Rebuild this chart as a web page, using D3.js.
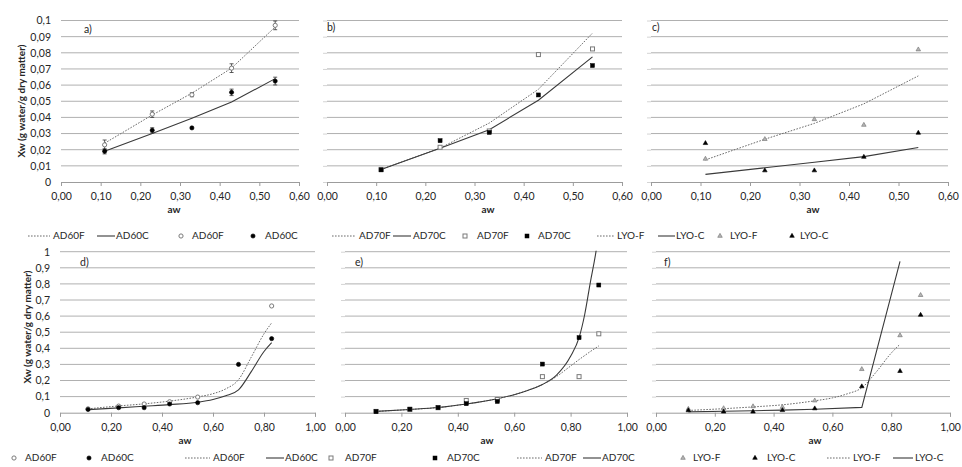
<!DOCTYPE html>
<html>
<head>
<meta charset="utf-8">
<script src="https://cdn.jsdelivr.net/npm/d3@7"></script>
<style>
  body { margin: 0; background: #fff; }
  svg { display: block; font-family: Lato, "Liberation Sans", sans-serif; }
</style>
</head>
<body>
<svg id="chart" width="962" height="467"></svg>
<script>
// ---------- tick labels ----------
const xTicksTop = [0, 0.1, 0.2, 0.3, 0.4, 0.5, 0.6];
const xTicksBot = [0, 0.2, 0.4, 0.6, 0.8, 1.0];
const yTicksTop = [0, 0.01, 0.02, 0.03, 0.04, 0.05, 0.06, 0.07, 0.08, 0.09, 0.1];
const yTicksBot = [0, 0.1, 0.2, 0.3, 0.4, 0.5, 0.6, 0.7, 0.8, 0.9, 1.0];

// ---------- water activity levels ----------
const awLow  = [0.11, 0.23, 0.33, 0.43, 0.54];
const awFull = [0.11, 0.23, 0.33, 0.43, 0.54, 0.70, 0.83, 0.90];
const awD    = [0.11, 0.23, 0.33, 0.43, 0.54, 0.83];
const awDC   = [0.11, 0.23, 0.33, 0.43, 0.54, 0.70, 0.83];

// ---------- a) AD60, low aw range ----------
const ad60F_a     = [0.023, 0.042, 0.054, 0.0705, 0.097];
const ad60F_a_err = [0.003, 0.002, 0.0012, 0.0027, 0.0027];
const ad60C_a     = [0.019, 0.032, 0.0335, 0.0555, 0.0625];
const ad60C_a_err = [0.0016, 0.0016, 0, 0.002, 0.0024];
const fitAD60F_a  = [0.024, 0.0415, 0.055, 0.0705, 0.096];
const fitAD60C_a  = [0.019, 0.030, 0.0395, 0.0495, 0.064];

// ---------- b) AD70, low aw range ----------
const ad70F_b    = [0.0078, 0.0215, 0.0316, 0.0789, 0.0824];
const ad70C_b    = [0.0075, 0.0256, 0.0307, 0.0539, 0.0721];
const fitAD70F_b = [0.0078, 0.021, 0.0365, 0.0574, 0.0922];
const fitAD70C_b = [0.0078, 0.0209, 0.0324, 0.0506, 0.0775];

// ---------- c) LYO, low aw range ----------
const lyoF_c    = [0.0143, 0.0265, 0.0388, 0.0353, 0.082];
const lyoC_c    = [0.024, 0.0071, 0.0071, 0.0155, 0.0304];
const fitLyoF_c = [0.0137, 0.0265, 0.0363, 0.0484, 0.0657];
const fitLyoC_c = [0.0047, 0.0088, 0.0122, 0.0157, 0.0214];

// ---------- d) AD60, full aw range ----------
const ad60F_d    = [0.024, 0.041, 0.054, 0.068, 0.097, 0.663];
const ad60C_d    = [0.020, 0.031, 0.031, 0.054, 0.062, 0.30, 0.46];
const fitAw_d    = [0.11, 0.23, 0.33, 0.43, 0.54, 0.60, 0.65, 0.70, 0.75, 0.80, 0.83];
const fitAD60F_d = [0.024, 0.042, 0.055, 0.072, 0.098, 0.118, 0.148, 0.205, 0.345, 0.49, 0.558];
const fitAD60C_d = [0.019, 0.030, 0.040, 0.050, 0.065, 0.082, 0.105, 0.142, 0.255, 0.38, 0.435];

// ---------- e) AD70, full aw range ----------
const ad70F_e    = [0.008, 0.021, 0.031, 0.076, 0.082, 0.224, 0.224, 0.49];
const ad70C_e    = [0.007, 0.022, 0.031, 0.056, 0.070, 0.302, 0.466, 0.793];
const fitAw_e    = [0.11, 0.23, 0.33, 0.43, 0.54, 0.60, 0.65, 0.70, 0.75, 0.80, 0.83, 0.85, 0.87, 0.89, 0.90];
const fitAD70F_e = [0.008, 0.020, 0.032, 0.054, 0.087, 0.112, 0.140, 0.175, 0.225, 0.290, 0.330, 0.355, 0.380, 0.403, 0.415];
const fitAD70C_e = [0.008, 0.020, 0.032, 0.054, 0.087, 0.112, 0.140, 0.175, 0.233, 0.350, 0.466, 0.61, 0.81, 1.0, 1.12];

// ---------- f) LYO, full aw range ----------
const lyoF_f    = [0.023, 0.027, 0.039, 0.035, 0.075, 0.27, 0.48, 0.73];
const lyoC_f    = [0.014, 0.006, 0.006, 0.015, 0.026, 0.163, 0.258, 0.607];
const fitAw_f   = [0.11, 0.23, 0.33, 0.43, 0.54, 0.60, 0.65, 0.70, 0.75, 0.80, 0.83];
const fitLyoF_f = [0.014, 0.025, 0.036, 0.049, 0.074, 0.092, 0.117, 0.155, 0.255, 0.37, 0.425];
const fitAwC_f  = [0.11, 0.23, 0.33, 0.43, 0.54, 0.70, 0.83];
const fitLyoC_f = [0.005, 0.009, 0.012, 0.016, 0.021, 0.033, 0.94];

// ---------- drawing ----------
const svg = d3.select("#chart");
const GRID = "#b0b0b0", AXIS = "#9c9c9c", TXT = "#262626";
const zip = (xs, ys, es) => xs.map((x, i) => ({ aw: x, xw: ys[i], err: es ? es[i] : 0 }));
const fmtX = v => v.toFixed(2).replace(".", ",");
const fmtY = v => String(+v.toFixed(2)).replace(".", ",");

function drawMarker(g, shape, filled, cx, cy) {
  const stroke = filled ? "#000" : "#7a7a7a";
  const fill = filled ? "#000" : "#fff";
  if (shape === "circle") {
    g.append("circle").attr("cx", cx).attr("cy", cy).attr("r", 2.1)
      .attr("fill", fill).attr("stroke", stroke).attr("stroke-width", filled ? 0.6 : 1);
  } else if (shape === "square") {
    g.append("rect").attr("x", cx - 2).attr("y", cy - 2).attr("width", 4).attr("height", 4)
      .attr("fill", fill).attr("stroke", stroke).attr("stroke-width", filled ? 0.5 : 1);
  } else {
    g.append("path").attr("d", d3.symbol(d3.symbolTriangle, 9)())
      .attr("transform", `translate(${cx},${cy})`)
      .attr("fill", filled ? "#000" : "#b5b5b5").attr("stroke", filled ? "#000" : "#6e6e6e")
      .attr("stroke-width", 0.6);
  }
}

function lineStyle(sel, dotted) {
  sel.attr("fill", "none")
    .attr("stroke", dotted ? "#6a6a6a" : "#3a3a3a")
    .attr("stroke-width", dotted ? 1 : 1.1)
    .attr("stroke-dasharray", dotted ? "1.6,1.4" : null);
}

let clipId = 0;
function panel(cfg) {
  const x = d3.scaleLinear().domain([0, cfg.xMax]).range([cfg.left, cfg.right]);
  const y = d3.scaleLinear().domain([0, cfg.yMax]).range([cfg.bottom, cfg.top]);
  const g = svg.append("g");

  // horizontal gridlines
  g.append("g").selectAll("line").data(cfg.yTicks.slice(1)).join("line")
    .attr("x1", cfg.left).attr("x2", cfg.right)
    .attr("y1", d => y(d)).attr("y2", d => y(d))
    .attr("stroke", GRID).attr("stroke-width", 1);

  // y axis: ticks (labels only on the left-most panels)
  const ya = g.append("g").attr("transform", `translate(${cfg.left},0)`)
    .call(d3.axisLeft(y).tickValues(cfg.yTicks).tickSize(4).tickPadding(6)
      .tickFormat(cfg.yLabels ? fmtY : ""));
  ya.select(".domain").remove();
  ya.selectAll(".tick line").attr("stroke", cfg.yLabels ? "none" : "#d4d4d4");
  ya.selectAll("text").attr("fill", TXT).style("font-size", "10.5px").style("font-family", "Lato, sans-serif");

  // x axis
  const xa = g.append("g").attr("transform", `translate(0,${cfg.bottom})`)
    .call(d3.axisBottom(x).tickValues(cfg.xTicks).tickSize(4).tickPadding(7).tickFormat(fmtX));
  xa.select(".domain").attr("stroke", AXIS);
  xa.selectAll(".tick line").attr("stroke", AXIS);
  xa.selectAll("text").attr("fill", TXT).style("font-size", "10.5px").style("font-family", "Lato, sans-serif");

  // axis titles
  g.append("text").attr("x", cfg.xTitle).attr("y", cfg.bottom + 31)
    .attr("text-anchor", "middle").attr("font-weight", "bold").attr("font-size", 10)
    .attr("fill", TXT).text("aw");
  if (cfg.yTitle) {
    g.append("text")
      .attr("transform", `translate(${cfg.yTitle[0]},${cfg.yTitle[1]}) rotate(-90)`)
      .attr("text-anchor", "middle").attr("dominant-baseline", "middle")
      .attr("font-weight", "bold").attr("font-size", 10).attr("fill", TXT)
      .text("Xw (g water/g dry matter)");
  }

  // panel letter
  g.append("text").attr("x", cfg.tag[0]).attr("y", cfg.tag[1])
    .attr("font-size", 10.5).attr("fill", TXT).text(cfg.name);

  // clip for fitted curves
  const cid = "clip" + (clipId++);
  svg.append("clipPath").attr("id", cid).append("rect")
    .attr("x", cfg.left).attr("y", cfg.top - 1)
    .attr("width", cfg.right - cfg.left).attr("height", cfg.bottom - cfg.top + 1);

  const lineGen = d3.line().x(d => x(d.aw)).y(d => y(d.xw));
  cfg.lines.forEach(L => {
    g.append("path").datum(L.data)
      .attr("clip-path", `url(#${cid})`)
      .attr("d", lineGen.curve(L.smooth ? d3.curveMonotoneX : d3.curveLinear))
      .call(lineStyle, L.dotted);
  });

  cfg.points.forEach(P => {
    const pg = g.append("g");
    P.data.forEach(d => {
      if (d.err) {
        const cx = x(d.aw), yt = y(d.xw + d.err), yb = y(d.xw - d.err);
        pg.append("line").attr("x1", cx).attr("x2", cx).attr("y1", yt).attr("y2", yb)
          .attr("stroke", "#333").attr("stroke-width", 0.8);
        [yt, yb].forEach(yy => pg.append("line").attr("x1", cx - 2).attr("x2", cx + 2)
          .attr("y1", yy).attr("y2", yy).attr("stroke", "#333").attr("stroke-width", 0.8));
      }
      drawMarker(pg, P.shape, P.filled, x(d.aw), y(d.xw));
    });
  });

  // legend row
  const lg = g.append("g");
  cfg.legend.items.forEach(it => {
    const ly = cfg.legend.y;
    if (it.kind === "line") {
      lg.append("line").attr("x1", it.at[0]).attr("x2", it.at[1]).attr("y1", ly).attr("y2", ly)
        .call(lineStyle, it.dotted);
    } else {
      drawMarker(lg, it.shape, it.filled, it.at[0], ly);
    }
    lg.append("text").attr("x", it.tx).attr("y", ly).attr("dominant-baseline", "middle")
      .attr("font-size", 10).attr("fill", TXT).text(it.label);
  });
}

// ---------- panels ----------
panel({
  name: "a)", tag: [84, 33], left: 61, right: 299, top: 20.5, bottom: 182,
  xMax: 0.6, yMax: 0.1, xTicks: xTicksTop, yTicks: yTicksTop, yLabels: true,
  xTitle: 174, yTitle: [22, 101],
  lines: [
    { data: zip(awLow, fitAD60F_a), dotted: true },
    { data: zip(awLow, fitAD60C_a), dotted: false }
  ],
  points: [
    { data: zip(awLow, ad60F_a, ad60F_a_err), shape: "circle", filled: false },
    { data: zip(awLow, ad60C_a, ad60C_a_err), shape: "circle", filled: true }
  ],
  legend: { y: 236, items: [
    { kind: "line", dotted: true, at: [28, 50], tx: 53, label: "AD60F" },
    { kind: "line", dotted: false, at: [97, 115], tx: 116, label: "AD60C" },
    { kind: "mark", shape: "circle", filled: false, at: [181], tx: 192, label: "AD60F" },
    { kind: "mark", shape: "circle", filled: true, at: [253], tx: 265, label: "AD60C" }
  ]}
});

panel({
  name: "b)", tag: [327, 31], left: 327, right: 622, top: 20.5, bottom: 182,
  xMax: 0.6, yMax: 0.1, xTicks: xTicksTop, yTicks: yTicksTop, yLabels: false,
  xTitle: 488,
  lines: [
    { data: zip(awLow, fitAD70F_b), dotted: true },
    { data: zip(awLow, fitAD70C_b), dotted: false }
  ],
  points: [
    { data: zip(awLow, ad70F_b), shape: "square", filled: false },
    { data: zip(awLow, ad70C_b), shape: "square", filled: true }
  ],
  legend: { y: 236, items: [
    { kind: "line", dotted: true, at: [332, 356], tx: 359, label: "AD70F" },
    { kind: "line", dotted: false, at: [393, 411], tx: 413, label: "AD70C" },
    { kind: "mark", shape: "square", filled: false, at: [465], tx: 477, label: "AD70F" },
    { kind: "mark", shape: "square", filled: true, at: [527], tx: 538, label: "AD70C" }
  ]}
});

panel({
  name: "c)", tag: [652, 31], left: 651, right: 948, top: 20.5, bottom: 182,
  xMax: 0.6, yMax: 0.1, xTicks: xTicksTop, yTicks: yTicksTop, yLabels: false,
  xTitle: 813,
  lines: [
    { data: zip(awLow, fitLyoF_c), dotted: true },
    { data: zip(awLow, fitLyoC_c), dotted: false }
  ],
  points: [
    { data: zip(awLow, lyoF_c), shape: "triangle", filled: false },
    { data: zip(awLow, lyoC_c), shape: "triangle", filled: true }
  ],
  legend: { y: 236, items: [
    { kind: "line", dotted: true, at: [597, 615], tx: 617, label: "LYO-F" },
    { kind: "line", dotted: false, at: [658, 675], tx: 676, label: "LYO-C" },
    { kind: "mark", shape: "triangle", filled: false, at: [720], tx: 730, label: "LYO-F" },
    { kind: "mark", shape: "triangle", filled: true, at: [792], tx: 800, label: "LYO-C" }
  ]}
});

panel({
  name: "d)", tag: [80, 266], left: 60, right: 315, top: 251.7, bottom: 412.7,
  xMax: 1, yMax: 1, xTicks: xTicksBot, yTicks: yTicksBot, yLabels: true,
  xTitle: 185, yTitle: [28, 327],
  lines: [
    { data: zip(fitAw_d, fitAD60F_d), dotted: true, smooth: true },
    { data: zip(fitAw_d, fitAD60C_d), dotted: false, smooth: true }
  ],
  points: [
    { data: zip(awD, ad60F_d), shape: "circle", filled: false },
    { data: zip(awDC, ad60C_d), shape: "circle", filled: true }
  ],
  legend: { y: 458, items: [
    { kind: "mark", shape: "circle", filled: false, at: [14], tx: 25, label: "AD60F" },
    { kind: "mark", shape: "circle", filled: true, at: [89], tx: 101, label: "AD60C" },
    { kind: "line", dotted: true, at: [185, 210], tx: 213, label: "AD60F" },
    { kind: "line", dotted: false, at: [266, 284], tx: 285, label: "AD60C" }
  ]}
});

panel({
  name: "e)", tag: [355, 266], left: 345, right: 627, top: 251.7, bottom: 412.7,
  xMax: 1, yMax: 1, xTicks: xTicksBot, yTicks: yTicksBot, yLabels: false,
  xTitle: 487,
  lines: [
    { data: zip(fitAw_e, fitAD70F_e), dotted: true, smooth: true },
    { data: zip(fitAw_e, fitAD70C_e), dotted: false, smooth: true }
  ],
  points: [
    { data: zip(awFull, ad70F_e), shape: "square", filled: false },
    { data: zip(awFull, ad70C_e), shape: "square", filled: true }
  ],
  legend: { y: 458, items: [
    { kind: "mark", shape: "square", filled: false, at: [331], tx: 345, label: "AD70F" },
    { kind: "mark", shape: "square", filled: true, at: [435], tx: 447, label: "AD70C" },
    { kind: "line", dotted: true, at: [517, 542], tx: 545, label: "AD70F" },
    { kind: "line", dotted: false, at: [583, 601], tx: 602, label: "AD70C" }
  ]}
});

panel({
  name: "f)", tag: [664, 266], left: 656, right: 950, top: 251.7, bottom: 412.7,
  xMax: 1, yMax: 1, xTicks: xTicksBot, yTicks: yTicksBot, yLabels: false,
  xTitle: 815,
  lines: [
    { data: zip(fitAw_f, fitLyoF_f), dotted: true, smooth: true },
    { data: zip(fitAwC_f, fitLyoC_f), dotted: false, smooth: false }
  ],
  points: [
    { data: zip(awFull, lyoF_f), shape: "triangle", filled: false },
    { data: zip(awFull, lyoC_f), shape: "triangle", filled: true }
  ],
  legend: { y: 458, items: [
    { kind: "mark", shape: "triangle", filled: false, at: [683], tx: 693, label: "LYO-F" },
    { kind: "mark", shape: "triangle", filled: true, at: [755], tx: 767, label: "LYO-C" },
    { kind: "line", dotted: true, at: [827, 850], tx: 853, label: "LYO-F" },
    { kind: "line", dotted: false, at: [893, 913], tx: 915, label: "LYO-C" }
  ]}
});
</script>
</body>
</html>
